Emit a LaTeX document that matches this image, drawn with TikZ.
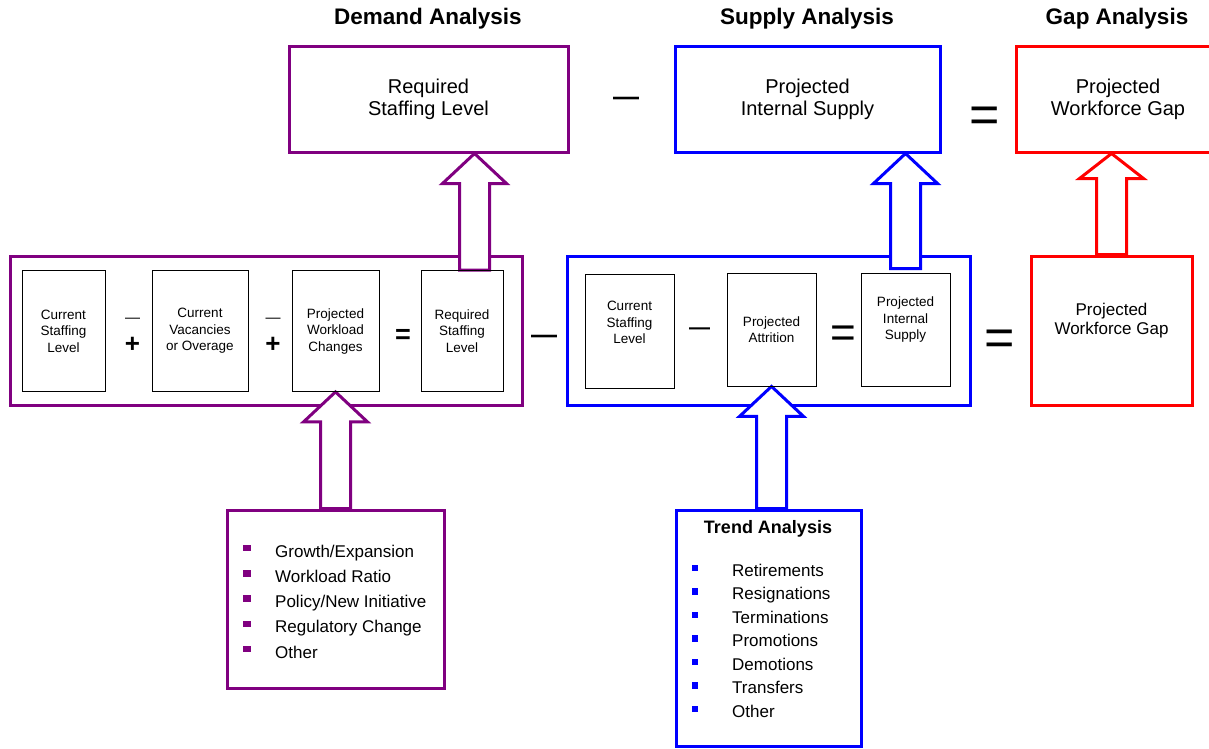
\documentclass[tikz,border=0pt]{standalone}
\usepackage{fontspec}
\setmainfont{Liberation Sans}
\usetikzlibrary{calc,positioning,backgrounds}

\definecolor{dempurple}{RGB}{128,0,128}
\definecolor{supblue}{RGB}{0,0,255}
\definecolor{gapred}{RGB}{255,0,0}

\pgfdeclarelayer{arrowlayer}
\pgfsetlayers{background,arrowlayer,main}

% hollow up arrow: colour, base point, tip point, head length
\newcommand{\blockup}[4]{%
  \draw[blockarrow, draw=#1] let \p1=(#2), \p2=(#3) in
    (\x2-15pt,\y1) -- (\x2-15pt,\y2-#4) -- (\x2-32pt,\y2-#4) -- (\x2,\y2)
    -- (\x2+32pt,\y2-#4) -- (\x2+15pt,\y2-#4) -- (\x2+15pt,\y1) -- cycle;
}

\begin{document}
\begin{tikzpicture}[
    x=1pt, y=-1pt,
    panel/.style={draw, line width=3pt, inner sep=0pt},
    topbox/.style={panel, minimum height=106pt, align=center, font=\fontsize{20}{22}\selectfont},
    inbox/.style={draw=black, line width=0.8pt, inner sep=0pt, align=center, font=\fontsize{13.5}{16.5}\selectfont},
    intext/.style={inner sep=0pt, align=center, font=\fontsize{13.5}{16.5}\selectfont},
    heading/.style={anchor=base, inner sep=0pt, font=\fontsize{22.5}{26}\selectfont\bfseries},
    op/.style={anchor=base, inner sep=0pt},
    bullet/.style={inner sep=0pt, minimum width=7.5pt, minimum height=6.5pt},
    listtext/.style={anchor=base west, inner sep=0pt, font=\fontsize{17}{20}\selectfont},
    blockarrow/.style={line width=3pt, fill=white, line join=miter}
]
\useasboundingbox (0,0) rectangle (1209,748);

% Headings
\node[heading] (dhead) at (428,24) {Demand Analysis};
\node[heading] (shead) at (807,24) {Supply Analysis};
\node[heading] (ghead) at (1117,24) {Gap Analysis};

% Top row
\node[topbox, draw=dempurple, minimum width=279pt] (dtop) at (428.5,99) {Required\\Staffing Level};
\node[topbox, draw=supblue, minimum width=265pt] (stop) at (807.5,99) {Projected\\Internal Supply};
\node[topbox, draw=gapred, minimum width=204pt] (gtop) at (1118,99) {Projected\\Workforce Gap};
\node[op, font=\fontsize{26}{26}\bfseries] (tminus) at (626,105.5) {—};
\node[op, font=\fontsize{52}{52}\selectfont] (teq) at (984.5,132) {=};

% Demand frame
\begin{scope}[on background layer]
    \node[panel, draw=dempurple, minimum width=512pt, minimum height=149pt] (dframe) at (266,330.5) {};
    \node[panel, draw=supblue, minimum width=403pt, minimum height=149pt] (sframe) at (768.5,330.5) {};
\end{scope}
\node[inbox, minimum width=83pt, minimum height=121pt] (d1) at (63.5,331) {Current\\Staffing\\Level};
\node[inbox, minimum width=96pt, minimum height=121pt] (d2) at (200,331) {Current\\Vacancies\\or Overage};
\node[inbox, minimum width=87pt, minimum height=121pt] (d3) at (335.5,331) {Projected\\Workload\\Changes};
\node[inbox, minimum width=82pt, minimum height=121pt] (d4) at (462,331) {Required\\Staffing\\Level};
\node[op, font=\fontsize{15}{15}\selectfont] (dminA) at (132.5,322) {—};
\node[op, font=\fontsize{26}{26}\bfseries] (dplusA) at (132.5,352.5) {+};
\node[op, font=\fontsize{15}{15}\selectfont] (dminB) at (273,322) {—};
\node[op, font=\fontsize{26}{26}\bfseries] (dplusB) at (273,352.5) {+};
\node[op, font=\fontsize{27}{27}\bfseries] (deq) at (403,343) {=};

\node[op, font=\fontsize{26}{26}\bfseries] (dsminus) at (544,343.5) {—};

% Supply frame
\node[inbox, minimum width=89pt, minimum height=114pt] (s1) at (629.5,331) {};
\node[intext] (s1txt) at ([yshift=8.5pt]s1.center) {Current\\Staffing\\Level};
\node[inbox, minimum width=89pt, minimum height=113pt] (s2) at (771.5,329.5) {Projected\\Attrition};
\node[inbox, minimum width=89pt, minimum height=113pt] (s3) at (905.5,329.5) {};
\node[intext] (s3txt) at ([yshift=10pt]s3.center) {Projected\\Internal\\Supply};
\node[op, font=\fontsize{21}{21}\bfseries] (sminus) at (699.5,334.5) {—};
\node[op, font=\fontsize{44}{44}\selectfont] (seq) at (843,347) {=};

\node[op, font=\fontsize{52}{52}\selectfont] (sgeq) at (1000,355.5) {=};

% Gap box
\node[panel, draw=gapred, minimum width=161pt, minimum height=149pt] (gbox) at (1111.5,330.5) {};
\node[align=center, inner sep=0pt, font=\fontsize{17}{19}\selectfont] (gtxt) at ([yshift=10pt]gbox.center) {Projected\\Workforce Gap};

% Demand drivers
\node[panel, draw=dempurple, minimum width=217pt, minimum height=178pt] (dlist) at (335.5,599) {};
\foreach \txt [count=\i] in {Growth/Expansion, Workload Ratio, Policy/New Initiative, Regulatory Change, Other} {
    \node[bullet, fill=dempurple] (dbul\i) at (247,{548+25.3*(\i-1)}) {};
    \node[listtext] (ditem\i) at (275,{557+25.3*(\i-1)}) {\txt};
}

% Trend analysis
\node[panel, draw=supblue, minimum width=185pt, minimum height=236pt] (tlist) at (768.5,628) {};
\node[anchor=base, inner sep=0pt, font=\fontsize{18}{20}\selectfont\bfseries] (thead) at (768,533) {Trend Analysis};
\foreach \txt [count=\i] in {Retirements, Resignations, Terminations, Promotions, Demotions, Transfers, Other} {
    \node[bullet, fill=supblue, minimum width=6.5pt] (tbul\i) at (695,{568+23.5*(\i-1)}) {};
    \node[listtext] (titem\i) at (732,{576+23.5*(\i-1)}) {\txt};
}

% Block arrows
\begin{pgfonlayer}{arrowlayer}
    \blockup{dempurple}{d4.north}{$(dtop.south)+(46,0)$}{30pt}
    \blockup{supblue}{$(s3.north)+(0,-4)$}{s3 |- stop.south}{30pt}
    \blockup{gapred}{gbox.north}{gbox |- gtop.south}{25pt}
    \blockup{dempurple}{dlist.north}{d3.south}{30pt}
    \blockup{supblue}{tlist.north}{s2.south}{30pt}
\end{pgfonlayer}

\end{tikzpicture}
\end{document}
